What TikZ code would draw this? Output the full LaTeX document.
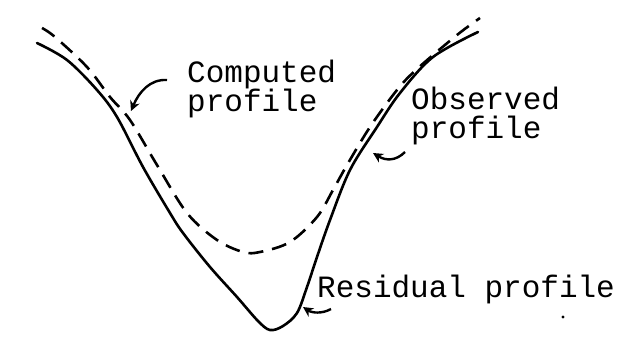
\documentclass[tikz,border=0pt]{standalone}
\usepackage{fontspec}
\setmonofont{Liberation Mono}
\usetikzlibrary{arrows.meta}
\begin{document}
\begin{tikzpicture}[x=1pt,y=-1pt,
  curve/.style={line width=2.6pt,line cap=round,line join=round},
  dashcurve/.style={curve,line cap=butt,dash pattern=on 15pt off 9pt},
  pointer/.style={line width=2.4pt,-{Stealth[length=10pt,width=10pt]}},
  lbl/.style={anchor=base west,inner sep=0pt,font=\fontsize{31}{33}\ttfamily}]
\useasboundingbox (0,0) rectangle (623,337);
% solid (observed) profile
\draw[curve] plot[smooth,tension=0.55] coordinates {(37,43) (67,60) (97,90) (117,117) (143,167) (170,213) (183,233) (210,267) (237,297) (258,321) (270,330) (283,326) (297,313) (307,287) (317,257) (330,220) (350,170) (377,127) (400,93) (433,57) (478,32)};
% dashed (computed) profile
\draw[dashcurve] plot[smooth,tension=0.55] coordinates {(42,28) (55,37) (87,67) (110,97) (130,120) (157,165) (187,213) (217,240) (243,252) (260,252) (290,242) (317,217) (333,190) (347,165) (370,127) (397,90) (417,69) (457,35) (480,18)};
% labels
\node[lbl] (comp1) at (187,82) {Computed};
\node[lbl] (comp2) at (187,111) {profile};
\node[lbl] (obs1) at (411,109) {Observed};
\node[lbl] (obs2) at (411,138) {profile};
\node[lbl] (res) at (317,297) {Residual profile};
% pointers
\coordinate (ctail) at (167,80);
\coordinate (ctip) at (131,111);
\coordinate (otail) at (405,152);
\coordinate (otip) at (373,153);
\coordinate (rtail) at (331,309);
\coordinate (rtip) at (303,307);
\draw[pointer] (ctail) .. controls (150,79) and (139,92) .. (ctip);
\draw[pointer] (otail) .. controls (396,161) and (386,161) .. (otip);
\draw[pointer] (rtail) .. controls (322,314) and (312,313) .. (rtip);
% speck
\fill (563,317) circle (1.6pt);
\end{tikzpicture}
\end{document}
